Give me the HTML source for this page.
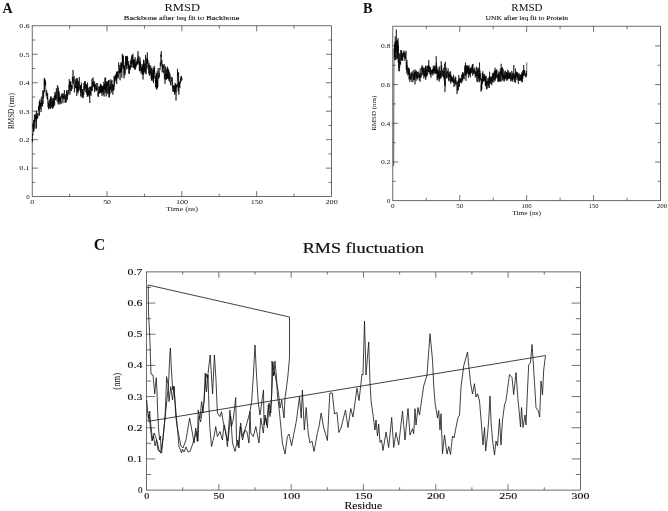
<!DOCTYPE html>
<html><head><meta charset="utf-8"><title>RMSD and RMS fluctuation</title>
<style>
html,body{margin:0;padding:0;background:#fff;}
svg{display:block;}
text{font-family:"Liberation Serif","DejaVu Serif",serif;fill:#111;}
</style></head><body>
<svg width="668" height="511" viewBox="0 0 668 511">
<rect width="668" height="511" fill="#fff"/>
<rect x="32.2" y="25.8" width="299.3" height="170.79999999999998" fill="none" stroke="#3a3a3a" stroke-width="0.75"/>
<line x1="107.03" y1="196.60" x2="107.03" y2="191.00" stroke="#3a3a3a" stroke-width="0.7"/>
<line x1="107.03" y1="25.80" x2="107.03" y2="31.40" stroke="#3a3a3a" stroke-width="0.7"/>
<line x1="181.85" y1="196.60" x2="181.85" y2="191.00" stroke="#3a3a3a" stroke-width="0.7"/>
<line x1="181.85" y1="25.80" x2="181.85" y2="31.40" stroke="#3a3a3a" stroke-width="0.7"/>
<line x1="256.68" y1="196.60" x2="256.68" y2="191.00" stroke="#3a3a3a" stroke-width="0.7"/>
<line x1="256.68" y1="25.80" x2="256.68" y2="31.40" stroke="#3a3a3a" stroke-width="0.7"/>
<line x1="69.61" y1="196.60" x2="69.61" y2="193.70" stroke="#3a3a3a" stroke-width="0.7"/>
<line x1="69.61" y1="25.80" x2="69.61" y2="28.70" stroke="#3a3a3a" stroke-width="0.7"/>
<line x1="144.44" y1="196.60" x2="144.44" y2="193.70" stroke="#3a3a3a" stroke-width="0.7"/>
<line x1="144.44" y1="25.80" x2="144.44" y2="28.70" stroke="#3a3a3a" stroke-width="0.7"/>
<line x1="219.26" y1="196.60" x2="219.26" y2="193.70" stroke="#3a3a3a" stroke-width="0.7"/>
<line x1="219.26" y1="25.80" x2="219.26" y2="28.70" stroke="#3a3a3a" stroke-width="0.7"/>
<line x1="294.09" y1="196.60" x2="294.09" y2="193.70" stroke="#3a3a3a" stroke-width="0.7"/>
<line x1="294.09" y1="25.80" x2="294.09" y2="28.70" stroke="#3a3a3a" stroke-width="0.7"/>
<line x1="32.20" y1="168.13" x2="37.80" y2="168.13" stroke="#3a3a3a" stroke-width="0.7"/>
<line x1="331.50" y1="168.13" x2="325.90" y2="168.13" stroke="#3a3a3a" stroke-width="0.7"/>
<line x1="32.20" y1="139.67" x2="37.80" y2="139.67" stroke="#3a3a3a" stroke-width="0.7"/>
<line x1="331.50" y1="139.67" x2="325.90" y2="139.67" stroke="#3a3a3a" stroke-width="0.7"/>
<line x1="32.20" y1="111.20" x2="37.80" y2="111.20" stroke="#3a3a3a" stroke-width="0.7"/>
<line x1="331.50" y1="111.20" x2="325.90" y2="111.20" stroke="#3a3a3a" stroke-width="0.7"/>
<line x1="32.20" y1="82.73" x2="37.80" y2="82.73" stroke="#3a3a3a" stroke-width="0.7"/>
<line x1="331.50" y1="82.73" x2="325.90" y2="82.73" stroke="#3a3a3a" stroke-width="0.7"/>
<line x1="32.20" y1="54.27" x2="37.80" y2="54.27" stroke="#3a3a3a" stroke-width="0.7"/>
<line x1="331.50" y1="54.27" x2="325.90" y2="54.27" stroke="#3a3a3a" stroke-width="0.7"/>
<line x1="32.20" y1="182.37" x2="35.30" y2="182.37" stroke="#3a3a3a" stroke-width="0.7"/>
<line x1="331.50" y1="182.37" x2="328.40" y2="182.37" stroke="#3a3a3a" stroke-width="0.7"/>
<line x1="32.20" y1="153.90" x2="35.30" y2="153.90" stroke="#3a3a3a" stroke-width="0.7"/>
<line x1="331.50" y1="153.90" x2="328.40" y2="153.90" stroke="#3a3a3a" stroke-width="0.7"/>
<line x1="32.20" y1="125.43" x2="35.30" y2="125.43" stroke="#3a3a3a" stroke-width="0.7"/>
<line x1="331.50" y1="125.43" x2="328.40" y2="125.43" stroke="#3a3a3a" stroke-width="0.7"/>
<line x1="32.20" y1="96.97" x2="35.30" y2="96.97" stroke="#3a3a3a" stroke-width="0.7"/>
<line x1="331.50" y1="96.97" x2="328.40" y2="96.97" stroke="#3a3a3a" stroke-width="0.7"/>
<line x1="32.20" y1="68.50" x2="35.30" y2="68.50" stroke="#3a3a3a" stroke-width="0.7"/>
<line x1="331.50" y1="68.50" x2="328.40" y2="68.50" stroke="#3a3a3a" stroke-width="0.7"/>
<line x1="32.20" y1="40.03" x2="35.30" y2="40.03" stroke="#3a3a3a" stroke-width="0.7"/>
<line x1="331.50" y1="40.03" x2="328.40" y2="40.03" stroke="#3a3a3a" stroke-width="0.7"/>
<text x="29.6" y="198.9" font-size="6.8" text-anchor="end">0</text>
<text x="29.6" y="170.4" font-size="6.8" text-anchor="end" textLength="10.3" lengthAdjust="spacingAndGlyphs">0.1</text>
<text x="29.6" y="142.0" font-size="6.8" text-anchor="end" textLength="10.3" lengthAdjust="spacingAndGlyphs">0.2</text>
<text x="29.6" y="113.5" font-size="6.8" text-anchor="end" textLength="10.3" lengthAdjust="spacingAndGlyphs">0.3</text>
<text x="29.6" y="85.0" font-size="6.8" text-anchor="end" textLength="10.3" lengthAdjust="spacingAndGlyphs">0.4</text>
<text x="29.6" y="56.6" font-size="6.8" text-anchor="end" textLength="10.3" lengthAdjust="spacingAndGlyphs">0.5</text>
<text x="29.6" y="28.1" font-size="6.8" text-anchor="end" textLength="10.3" lengthAdjust="spacingAndGlyphs">0.6</text>
<text x="32.3" y="203.8" font-size="7.0" text-anchor="middle" textLength="4" lengthAdjust="spacingAndGlyphs">0</text>
<text x="107.1" y="203.8" font-size="7.0" text-anchor="middle" textLength="7.8" lengthAdjust="spacingAndGlyphs">50</text>
<text x="182.0" y="203.8" font-size="7.0" text-anchor="middle" textLength="12.2" lengthAdjust="spacingAndGlyphs">100</text>
<text x="256.8" y="203.8" font-size="7.0" text-anchor="middle" textLength="12.2" lengthAdjust="spacingAndGlyphs">150</text>
<text x="331.6" y="203.8" font-size="7.0" text-anchor="middle" textLength="12.2" lengthAdjust="spacingAndGlyphs">200</text>
<text x="182" y="211.4" font-size="6.9" text-anchor="middle" textLength="32" lengthAdjust="spacingAndGlyphs">Time (ns)</text>
<text x="14.0" y="111" font-size="7.4" text-anchor="middle" textLength="36" lengthAdjust="spacingAndGlyphs" transform="rotate(-90 14.0 111)">RMSD (nm)</text>
<text x="182.2" y="11.3" font-size="10.6" text-anchor="middle" textLength="35.5" lengthAdjust="spacingAndGlyphs">RMSD</text>
<text x="181.6" y="20.3" font-size="7.0" text-anchor="middle" textLength="115.5" lengthAdjust="spacingAndGlyphs" stroke="#111" stroke-width="0.12">Backbone after lsq fit to Backbone</text>
<text x="2.4" y="12.5" font-size="14.0" text-anchor="start" font-weight="bold">A</text>
<polyline points="32.2,139.0 32.4,141.8 32.5,136.2 32.7,133.9 32.8,135.4 32.9,134.1 33.1,123.8 33.2,128.6 33.3,123.3 33.5,131.8 33.6,120.2 33.7,125.4 33.9,131.2 34.0,127.6 34.2,121.8 34.3,118.5 34.4,114.7 34.6,123.0 34.7,121.4 34.8,118.9 35.0,128.7 35.1,114.3 35.2,114.3 35.4,117.4 35.5,118.8 35.7,118.9 35.8,115.5 35.9,121.5 36.1,120.4 36.2,117.3 36.3,110.7 36.5,128.4 36.6,116.4 36.7,117.2 36.9,118.4 37.0,113.1 37.2,114.4 37.3,114.1 37.4,113.6 37.6,118.9 37.7,114.3 37.8,116.9 38.0,114.4 38.1,114.7 38.2,115.0 38.4,111.9 38.5,106.1 38.7,109.4 38.8,108.0 38.9,110.8 39.1,106.1 39.2,104.1 39.3,101.5 39.5,115.6 39.6,101.9 39.7,102.5 39.9,106.9 40.0,99.4 40.2,108.9 40.3,103.3 40.4,106.8 40.6,103.1 40.7,103.9 40.8,108.8 41.0,108.0 41.1,112.1 41.2,107.9 41.4,96.7 41.5,103.3 41.7,102.6 41.8,106.4 41.9,102.2 42.1,106.0 42.2,101.1 42.3,103.8 42.5,106.4 42.6,98.0 42.7,92.7 42.9,90.3 43.0,104.1 43.2,97.2 43.3,94.5 43.4,91.3 43.6,98.0 43.7,94.0 43.8,92.4 44.0,89.2 44.1,89.2 44.2,78.8 44.4,88.7 44.5,92.1 44.6,77.9 44.8,79.0 44.9,82.9 45.1,84.6 45.2,80.1 45.3,85.1 45.5,85.5 45.6,81.8 45.7,88.0 45.9,90.5 46.0,93.5 46.1,93.2 46.3,96.3 46.4,95.8 46.6,90.1 46.7,90.8 46.8,95.3 47.0,94.8 47.1,98.7 47.2,98.3 47.4,97.3 47.5,99.8 47.6,92.9 47.8,97.8 47.9,99.0 48.1,107.3 48.2,100.8 48.3,104.4 48.5,103.0 48.6,109.3 48.7,108.3 48.9,103.9 49.0,104.2 49.1,105.4 49.3,108.5 49.4,103.6 49.6,104.6 49.7,102.1 49.8,99.0 50.0,102.5 50.1,107.8 50.2,100.5 50.4,108.7 50.5,96.7 50.6,104.9 50.8,103.4 50.9,97.4 51.1,102.7 51.2,96.5 51.3,101.9 51.5,104.5 51.6,107.6 51.7,105.9 51.9,100.4 52.0,102.9 52.1,107.1 52.3,103.5 52.4,108.7 52.6,100.9 52.7,100.4 52.8,98.3 53.0,99.9 53.1,108.2 53.2,98.0 53.4,106.3 53.5,101.6 53.6,102.5 53.8,99.2 53.9,100.8 54.1,106.2 54.2,96.0 54.3,101.7 54.5,103.2 54.6,103.9 54.7,104.8 54.9,92.4 55.0,97.8 55.1,95.2 55.3,97.5 55.4,98.8 55.6,99.9 55.7,95.2 55.8,99.9 56.0,91.7 56.1,98.7 56.2,93.8 56.4,88.4 56.5,88.9 56.6,88.8 56.8,92.6 56.9,96.7 57.0,100.4 57.2,101.6 57.3,87.2 57.5,85.0 57.6,85.6 57.7,86.8 57.9,93.0 58.0,91.2 58.1,104.4 58.3,87.4 58.4,94.3 58.5,101.6 58.7,94.8 58.8,93.6 59.0,103.3 59.1,92.4 59.2,91.7 59.4,94.9 59.5,99.3 59.6,100.4 59.8,96.7 59.9,104.5 60.0,97.7 60.2,98.8 60.3,98.1 60.5,102.1 60.6,98.3 60.7,96.5 60.9,102.1 61.0,101.8 61.1,103.9 61.3,94.4 61.4,94.3 61.5,96.5 61.7,96.8 61.8,95.9 62.0,96.5 62.1,98.7 62.2,93.4 62.4,97.0 62.5,94.6 62.6,95.3 62.8,95.7 62.9,103.2 63.0,96.5 63.2,93.4 63.3,97.1 63.5,96.4 63.6,97.8 63.7,96.1 63.9,99.6 64.0,97.9 64.1,94.8 64.3,94.1 64.4,90.2 64.5,98.2 64.7,94.7 64.8,94.7 65.0,95.3 65.1,102.9 65.2,102.8 65.4,96.8 65.5,102.7 65.6,102.6 65.8,101.5 65.9,97.4 66.0,94.2 66.2,99.1 66.3,102.1 66.5,90.7 66.6,94.9 66.7,97.4 66.9,96.0 67.0,90.0 67.1,90.9 67.3,95.2 67.4,99.7 67.5,93.8 67.7,96.1 67.8,93.6 68.0,93.7 68.1,90.9 68.2,91.0 68.4,90.2 68.5,90.8 68.6,94.2 68.8,90.5 68.9,90.8 69.0,84.7 69.2,90.3 69.3,79.1 69.4,83.6 69.6,87.6 69.7,82.1 69.9,94.8 70.0,87.8 70.1,84.0 70.3,86.9 70.4,81.8 70.5,83.8 70.7,85.8 70.8,81.3 70.9,90.8 71.1,86.6 71.2,91.2 71.4,88.0 71.5,88.4 71.6,85.1 71.8,87.6 71.9,85.4 72.0,86.3 72.2,88.9 72.3,80.4 72.4,76.9 72.6,82.3 72.7,83.0 72.9,79.7 73.0,70.0 73.1,77.1 73.3,79.6 73.4,80.9 73.5,78.6 73.7,80.1 73.8,84.4 73.9,81.6 74.1,76.0 74.2,86.1 74.4,92.4 74.5,88.4 74.6,89.4 74.8,84.3 74.9,87.4 75.0,88.2 75.2,86.1 75.3,79.3 75.4,86.0 75.6,88.1 75.7,87.7 75.9,86.4 76.0,87.9 76.1,81.0 76.3,82.7 76.4,78.1 76.5,84.5 76.7,91.6 76.8,95.9 76.9,81.8 77.1,89.0 77.2,91.7 77.4,84.4 77.5,78.4 77.6,92.0 77.8,84.7 77.9,82.9 78.0,93.4 78.2,86.8 78.3,88.0 78.4,90.4 78.6,84.8 78.7,80.8 78.9,88.2 79.0,87.0 79.1,90.6 79.3,77.0 79.4,85.0 79.5,86.0 79.7,85.6 79.8,86.4 79.9,86.9 80.1,89.3 80.2,89.0 80.3,85.1 80.5,91.7 80.6,85.2 80.8,95.9 80.9,85.8 81.0,88.2 81.2,97.4 81.3,88.7 81.4,82.6 81.6,85.5 81.7,90.9 81.8,91.6 82.0,92.9 82.1,91.6 82.3,89.1 82.4,93.0 82.5,95.7 82.7,89.6 82.8,98.2 82.9,91.5 83.1,95.4 83.2,97.4 83.3,94.0 83.5,92.1 83.6,94.0 83.8,94.9 83.9,82.9 84.0,90.6 84.2,88.1 84.3,86.0 84.4,88.9 84.6,88.4 84.7,89.0 84.8,81.4 85.0,91.8 85.1,80.9 85.3,84.1 85.4,83.3 85.5,88.0 85.7,84.4 85.8,88.4 85.9,84.4 86.1,92.9 86.2,92.6 86.3,88.6 86.5,84.5 86.6,85.5 86.8,84.5 86.9,94.6 87.0,93.7 87.2,86.2 87.3,96.9 87.4,90.0 87.6,82.5 87.7,95.7 87.8,95.8 88.0,91.0 88.1,88.0 88.3,95.0 88.4,90.2 88.5,92.8 88.7,95.0 88.8,95.4 88.9,91.9 89.1,90.8 89.2,96.9 89.3,86.8 89.5,96.8 89.6,96.6 89.8,103.0 89.9,92.6 90.0,93.7 90.2,94.3 90.3,87.2 90.4,91.4 90.6,93.1 90.7,86.7 90.8,87.8 91.0,95.9 91.1,92.6 91.3,86.3 91.4,90.2 91.5,88.7 91.7,90.1 91.8,88.8 91.9,78.9 92.1,85.4 92.2,91.0 92.3,91.0 92.5,84.9 92.6,82.8 92.7,85.8 92.9,83.1 93.0,77.5 93.2,81.3 93.3,87.0 93.4,87.1 93.6,86.8 93.7,82.1 93.8,81.0 94.0,82.3 94.1,87.1 94.2,81.4 94.4,88.0 94.5,92.2 94.7,84.0 94.8,84.6 94.9,87.9 95.1,89.0 95.2,84.5 95.3,86.0 95.5,85.9 95.6,85.4 95.7,88.8 95.9,88.8 96.0,91.2 96.2,83.1 96.3,90.8 96.4,89.6 96.6,86.8 96.7,88.2 96.8,90.4 97.0,89.2 97.1,88.1 97.2,89.8 97.4,83.0 97.5,84.9 97.7,85.9 97.8,87.1 97.9,90.5 98.1,96.2 98.2,91.9 98.3,97.0 98.5,89.5 98.6,88.5 98.7,87.2 98.9,86.8 99.0,88.9 99.2,93.8 99.3,86.0 99.4,91.9 99.6,89.4 99.7,92.9 99.8,88.8 100.0,92.1 100.1,88.6 100.2,90.9 100.4,83.7 100.5,93.1 100.7,92.1 100.8,84.2 100.9,92.4 101.1,86.5 101.2,92.8 101.3,90.8 101.5,92.0 101.6,90.5 101.7,85.3 101.9,93.7 102.0,95.9 102.2,85.9 102.3,91.0 102.4,91.5 102.6,88.0 102.7,86.0 102.8,92.5 103.0,86.8 103.1,94.1 103.2,94.9 103.4,89.6 103.5,85.6 103.7,90.9 103.8,81.8 103.9,83.7 104.1,96.6 104.2,85.7 104.3,89.0 104.5,84.0 104.6,87.8 104.7,89.5 104.9,77.8 105.0,84.5 105.1,93.3 105.3,90.7 105.4,89.6 105.6,77.5 105.7,90.1 105.8,85.7 106.0,84.4 106.1,87.4 106.2,96.4 106.4,81.5 106.5,92.4 106.6,90.2 106.8,82.8 106.9,84.2 107.1,86.0 107.2,84.4 107.3,86.0 107.5,81.1 107.6,82.2 107.7,94.0 107.9,86.7 108.0,83.3 108.1,85.7 108.3,92.7 108.4,85.1 108.6,80.1 108.7,90.1 108.8,95.1 109.0,97.3 109.1,82.1 109.2,79.8 109.4,97.3 109.5,87.0 109.6,94.6 109.8,87.0 109.9,94.0 110.1,87.6 110.2,86.9 110.3,89.7 110.5,84.3 110.6,89.1 110.7,87.1 110.9,79.4 111.0,83.6 111.1,82.5 111.3,81.6 111.4,89.0 111.6,92.4 111.7,88.8 111.8,83.1 112.0,80.1 112.1,89.8 112.2,84.6 112.4,88.1 112.5,86.4 112.6,84.0 112.8,94.7 112.9,88.3 113.1,88.1 113.2,85.2 113.3,91.2 113.5,86.1 113.6,88.0 113.7,86.7 113.9,85.2 114.0,89.7 114.1,76.0 114.3,85.9 114.4,81.5 114.6,78.6 114.7,79.2 114.8,82.6 115.0,76.3 115.1,78.1 115.2,80.5 115.4,74.5 115.5,76.2 115.6,78.9 115.8,77.1 115.9,75.9 116.1,77.8 116.2,74.0 116.3,80.7 116.5,73.6 116.6,72.1 116.7,84.1 116.9,71.4 117.0,71.8 117.1,74.2 117.3,77.8 117.4,73.3 117.5,72.5 117.7,72.2 117.8,75.8 118.0,71.2 118.1,73.7 118.2,78.5 118.4,71.1 118.5,70.2 118.6,62.4 118.8,66.2 118.9,67.5 119.0,67.7 119.2,68.9 119.3,72.2 119.5,73.4 119.6,69.8 119.7,72.5 119.9,65.0 120.0,79.0 120.1,80.3 120.3,68.4 120.4,71.3 120.5,69.5 120.7,71.6 120.8,65.6 121.0,62.2 121.1,72.8 121.2,63.2 121.4,71.2 121.5,64.9 121.6,63.8 121.8,77.6 121.9,73.6 122.0,65.2 122.2,61.9 122.3,53.8 122.5,61.6 122.6,57.1 122.7,66.3 122.9,55.9 123.0,68.8 123.1,65.3 123.3,67.5 123.4,55.5 123.5,63.6 123.7,70.4 123.8,74.7 124.0,75.4 124.1,78.4 124.2,66.3 124.4,73.1 124.5,71.7 124.6,67.2 124.8,75.3 124.9,65.0 125.0,73.7 125.2,62.3 125.3,62.2 125.5,65.0 125.6,56.3 125.7,64.0 125.9,66.1 126.0,55.9 126.1,60.2 126.3,58.4 126.4,63.3 126.5,69.4 126.7,61.2 126.8,56.2 127.0,65.2 127.1,55.9 127.2,64.9 127.4,61.8 127.5,62.4 127.6,57.0 127.8,62.1 127.9,67.8 128.0,69.0 128.2,64.7 128.3,66.2 128.4,65.4 128.6,63.3 128.7,61.2 128.9,73.5 129.0,64.5 129.1,69.3 129.3,73.9 129.4,65.5 129.5,67.3 129.7,68.4 129.8,66.3 129.9,68.2 130.1,66.0 130.2,69.9 130.4,67.7 130.5,62.3 130.6,60.3 130.8,63.8 130.9,63.7 131.0,62.6 131.2,67.5 131.3,58.3 131.4,61.7 131.6,63.6 131.7,55.2 131.9,64.3 132.0,65.1 132.1,66.9 132.3,57.2 132.4,56.5 132.5,63.3 132.7,61.1 132.8,56.3 132.9,53.8 133.1,60.7 133.2,68.0 133.4,59.5 133.5,66.0 133.6,60.4 133.8,60.6 133.9,67.9 134.0,66.6 134.2,59.8 134.3,66.2 134.4,69.4 134.6,65.9 134.7,59.7 134.9,67.1 135.0,68.0 135.1,57.2 135.3,69.7 135.4,64.3 135.5,64.2 135.7,68.1 135.8,64.3 135.9,66.8 136.1,62.1 136.2,63.9 136.4,63.0 136.5,63.9 136.6,65.6 136.8,63.5 136.9,60.8 137.0,63.8 137.2,59.5 137.3,64.6 137.4,62.8 137.6,60.1 137.7,57.8 137.9,60.5 138.0,51.2 138.1,60.9 138.3,63.7 138.4,59.9 138.5,59.3 138.7,60.1 138.8,55.8 138.9,64.5 139.1,63.6 139.2,63.5 139.4,70.3 139.5,61.0 139.6,71.2 139.8,60.6 139.9,66.6 140.0,57.4 140.2,66.3 140.3,70.9 140.4,62.0 140.6,68.4 140.7,68.5 140.8,68.2 141.0,67.4 141.1,73.6 141.3,69.2 141.4,68.3 141.5,71.2 141.7,69.4 141.8,67.7 141.9,64.3 142.1,72.5 142.2,68.3 142.3,75.1 142.5,65.7 142.6,64.9 142.8,73.8 142.9,66.5 143.0,79.5 143.2,74.6 143.3,63.8 143.4,74.4 143.6,59.7 143.7,69.5 143.8,68.2 144.0,60.6 144.1,68.5 144.3,63.9 144.4,64.7 144.5,67.1 144.7,71.9 144.8,63.5 144.9,65.1 145.1,73.7 145.2,68.3 145.3,72.2 145.5,55.0 145.6,58.5 145.8,62.8 145.9,63.8 146.0,66.0 146.2,74.2 146.3,58.3 146.4,60.6 146.6,66.1 146.7,65.1 146.8,69.3 147.0,62.5 147.1,59.5 147.3,52.5 147.4,63.8 147.5,58.0 147.7,62.2 147.8,63.4 147.9,60.1 148.1,67.8 148.2,65.7 148.3,64.3 148.5,65.1 148.6,73.3 148.8,68.1 148.9,66.1 149.0,62.8 149.2,63.7 149.3,72.6 149.4,75.8 149.6,68.5 149.7,65.5 149.8,73.7 150.0,72.8 150.1,74.7 150.3,69.7 150.4,72.9 150.5,67.0 150.7,65.5 150.8,69.1 150.9,73.5 151.1,76.5 151.2,78.7 151.3,68.0 151.5,80.3 151.6,72.2 151.8,74.2 151.9,80.7 152.0,67.6 152.2,70.9 152.3,73.6 152.4,76.0 152.6,79.1 152.7,79.3 152.8,70.2 153.0,77.5 153.1,73.5 153.2,81.5 153.4,73.1 153.5,83.0 153.7,70.0 153.8,76.9 153.9,67.5 154.1,73.5 154.2,65.8 154.3,73.4 154.5,70.2 154.6,68.3 154.7,75.6 154.9,78.5 155.0,76.2 155.2,77.1 155.3,79.9 155.4,83.4 155.6,87.0 155.7,80.1 155.8,87.3 156.0,75.5 156.1,82.1 156.2,73.1 156.4,89.1 156.5,74.7 156.7,77.7 156.8,89.5 156.9,77.6 157.1,75.7 157.2,71.3 157.3,77.8 157.5,88.1 157.6,79.6 157.7,86.7 157.9,87.0 158.0,77.1 158.2,68.2 158.3,77.9 158.4,79.0 158.6,75.9 158.7,75.7 158.8,77.5 159.0,75.1 159.1,72.9 159.2,76.3 159.4,77.3 159.5,70.9 159.7,70.2 159.8,68.2 159.9,69.6 160.1,68.0 160.2,67.4 160.3,62.4 160.5,66.5 160.6,62.8 160.7,59.8 160.9,54.2 161.0,57.2 161.2,55.2 161.3,51.2 161.4,63.1 161.6,61.3 161.7,64.8 161.8,59.8 162.0,67.1 162.1,67.7 162.2,72.3 162.4,64.2 162.5,67.6 162.7,68.0 162.8,64.9 162.9,68.9 163.1,66.4 163.2,64.8 163.3,72.4 163.5,72.4 163.6,73.3 163.7,70.0 163.9,71.3 164.0,72.3 164.1,69.0 164.3,64.2 164.4,79.1 164.6,76.3 164.7,76.7 164.8,73.1 165.0,83.8 165.1,75.0 165.2,75.4 165.4,66.4 165.5,73.9 165.6,76.9 165.8,79.8 165.9,76.5 166.1,72.2 166.2,69.8 166.3,79.6 166.5,74.1 166.6,75.9 166.7,72.6 166.9,68.3 167.0,78.9 167.1,74.4 167.3,76.9 167.4,66.6 167.6,73.1 167.7,78.5 167.8,73.1 168.0,72.4 168.1,71.8 168.2,68.6 168.4,78.7 168.5,76.4 168.6,69.9 168.8,80.6 168.9,80.2 169.1,79.3 169.2,71.6 169.3,77.8 169.5,81.5 169.6,76.2 169.7,76.8 169.9,78.8 170.0,73.6 170.1,79.9 170.3,82.4 170.4,81.7 170.6,85.3 170.7,81.1 170.8,81.0 171.0,80.5 171.1,76.9 171.2,77.2 171.4,79.2 171.5,81.1 171.6,79.9 171.8,82.3 171.9,83.0 172.1,85.3 172.2,81.9 172.3,77.3 172.5,81.3 172.6,90.8 172.7,91.5 172.9,85.0 173.0,88.3 173.1,87.1 173.3,85.2 173.4,88.2 173.6,90.8 173.7,91.9 173.8,87.2 174.0,86.4 174.1,87.1 174.2,87.9 174.4,92.0 174.5,85.9 174.6,94.9 174.8,91.0 174.9,92.8 175.1,82.9 175.2,88.9 175.3,88.4 175.5,90.5 175.6,84.0 175.7,92.7 175.9,85.4 176.0,100.5 176.1,94.8 176.3,89.9 176.4,86.0 176.5,87.6 176.7,85.1 176.8,87.3 177.0,86.7 177.1,84.1 177.2,86.6 177.4,79.9 177.5,68.8 177.6,75.8 177.8,72.0 177.9,78.9 178.0,78.3 178.2,91.6 178.3,83.9 178.5,89.4 178.6,72.5 178.7,86.0 178.9,94.7 179.0,86.4 179.1,82.1 179.3,86.2 179.4,84.9 179.5,84.2 179.7,82.9 179.8,88.1 180.0,82.4 180.1,83.4 180.2,81.2 180.4,83.1 180.5,78.7 180.6,82.1 180.8,78.6 180.9,80.8 181.0,76.3 181.2,78.7 181.3,77.9 181.5,76.0 181.6,80.6 181.7,78.4 181.9,78.0 182.0,79.6" fill="none" stroke="#000" stroke-width="0.65" stroke-linejoin="round"/>
<rect x="392.8" y="26.2" width="267.7" height="174.5" fill="none" stroke="#3a3a3a" stroke-width="0.75"/>
<line x1="459.73" y1="200.70" x2="459.73" y2="195.00" stroke="#3a3a3a" stroke-width="0.7"/>
<line x1="459.73" y1="26.20" x2="459.73" y2="31.90" stroke="#3a3a3a" stroke-width="0.7"/>
<line x1="526.65" y1="200.70" x2="526.65" y2="195.00" stroke="#3a3a3a" stroke-width="0.7"/>
<line x1="526.65" y1="26.20" x2="526.65" y2="31.90" stroke="#3a3a3a" stroke-width="0.7"/>
<line x1="593.58" y1="200.70" x2="593.58" y2="195.00" stroke="#3a3a3a" stroke-width="0.7"/>
<line x1="593.58" y1="26.20" x2="593.58" y2="31.90" stroke="#3a3a3a" stroke-width="0.7"/>
<line x1="426.26" y1="200.70" x2="426.26" y2="197.70" stroke="#3a3a3a" stroke-width="0.7"/>
<line x1="426.26" y1="26.20" x2="426.26" y2="29.20" stroke="#3a3a3a" stroke-width="0.7"/>
<line x1="493.19" y1="200.70" x2="493.19" y2="197.70" stroke="#3a3a3a" stroke-width="0.7"/>
<line x1="493.19" y1="26.20" x2="493.19" y2="29.20" stroke="#3a3a3a" stroke-width="0.7"/>
<line x1="560.11" y1="200.70" x2="560.11" y2="197.70" stroke="#3a3a3a" stroke-width="0.7"/>
<line x1="560.11" y1="26.20" x2="560.11" y2="29.20" stroke="#3a3a3a" stroke-width="0.7"/>
<line x1="627.04" y1="200.70" x2="627.04" y2="197.70" stroke="#3a3a3a" stroke-width="0.7"/>
<line x1="627.04" y1="26.20" x2="627.04" y2="29.20" stroke="#3a3a3a" stroke-width="0.7"/>
<line x1="392.80" y1="162.00" x2="398.20" y2="162.00" stroke="#3a3a3a" stroke-width="0.7"/>
<line x1="660.50" y1="162.00" x2="655.10" y2="162.00" stroke="#3a3a3a" stroke-width="0.7"/>
<line x1="392.80" y1="123.30" x2="398.20" y2="123.30" stroke="#3a3a3a" stroke-width="0.7"/>
<line x1="660.50" y1="123.30" x2="655.10" y2="123.30" stroke="#3a3a3a" stroke-width="0.7"/>
<line x1="392.80" y1="84.60" x2="398.20" y2="84.60" stroke="#3a3a3a" stroke-width="0.7"/>
<line x1="660.50" y1="84.60" x2="655.10" y2="84.60" stroke="#3a3a3a" stroke-width="0.7"/>
<line x1="392.80" y1="45.90" x2="398.20" y2="45.90" stroke="#3a3a3a" stroke-width="0.7"/>
<line x1="660.50" y1="45.90" x2="655.10" y2="45.90" stroke="#3a3a3a" stroke-width="0.7"/>
<line x1="392.80" y1="181.35" x2="395.60" y2="181.35" stroke="#3a3a3a" stroke-width="0.7"/>
<line x1="660.50" y1="181.35" x2="657.70" y2="181.35" stroke="#3a3a3a" stroke-width="0.7"/>
<line x1="392.80" y1="142.65" x2="395.60" y2="142.65" stroke="#3a3a3a" stroke-width="0.7"/>
<line x1="660.50" y1="142.65" x2="657.70" y2="142.65" stroke="#3a3a3a" stroke-width="0.7"/>
<line x1="392.80" y1="103.95" x2="395.60" y2="103.95" stroke="#3a3a3a" stroke-width="0.7"/>
<line x1="660.50" y1="103.95" x2="657.70" y2="103.95" stroke="#3a3a3a" stroke-width="0.7"/>
<line x1="392.80" y1="65.25" x2="395.60" y2="65.25" stroke="#3a3a3a" stroke-width="0.7"/>
<line x1="660.50" y1="65.25" x2="657.70" y2="65.25" stroke="#3a3a3a" stroke-width="0.7"/>
<text x="390.3" y="203.1" font-size="6.7" text-anchor="end">0</text>
<text x="390.3" y="164.4" font-size="6.7" text-anchor="end" textLength="9.4" lengthAdjust="spacingAndGlyphs">0.2</text>
<text x="390.3" y="125.7" font-size="6.7" text-anchor="end" textLength="9.4" lengthAdjust="spacingAndGlyphs">0.4</text>
<text x="390.3" y="87.0" font-size="6.7" text-anchor="end" textLength="9.4" lengthAdjust="spacingAndGlyphs">0.6</text>
<text x="390.3" y="48.3" font-size="6.7" text-anchor="end" textLength="9.4" lengthAdjust="spacingAndGlyphs">0.8</text>
<text x="392.8" y="208.1" font-size="6.7" text-anchor="middle" textLength="3.6" lengthAdjust="spacingAndGlyphs">0</text>
<text x="459.7" y="208.1" font-size="6.7" text-anchor="middle" textLength="7" lengthAdjust="spacingAndGlyphs">50</text>
<text x="526.6" y="208.1" font-size="6.7" text-anchor="middle" textLength="10" lengthAdjust="spacingAndGlyphs">100</text>
<text x="593.6" y="208.1" font-size="6.7" text-anchor="middle" textLength="10" lengthAdjust="spacingAndGlyphs">150</text>
<text x="662" y="208.1" font-size="6.7" text-anchor="middle" textLength="10.5" lengthAdjust="spacingAndGlyphs">200</text>
<text x="526.6" y="215" font-size="7.0" text-anchor="middle" textLength="28.8" lengthAdjust="spacingAndGlyphs">Time (ns)</text>
<text x="376.2" y="113.2" font-size="7.0" text-anchor="middle" textLength="35.2" lengthAdjust="spacingAndGlyphs" transform="rotate(-90 376.2 113.2)">RMSD (nm)</text>
<text x="526.9" y="11.3" font-size="10.4" text-anchor="middle" textLength="31.2" lengthAdjust="spacingAndGlyphs">RMSD</text>
<text x="526.8" y="20" font-size="6.8" text-anchor="middle" textLength="82.5" lengthAdjust="spacingAndGlyphs" stroke="#111" stroke-width="0.1">UNK after lsq fit to Protein</text>
<text x="363" y="12.6" font-size="14.2" text-anchor="start" font-weight="bold">B</text>
<polyline points="393.7,166.0 393.8,120.0 393.9,80.0 394.0,58.0 394.1,54.1 394.2,48.2 394.3,56.6 394.5,57.7 394.6,44.3 394.7,59.9 394.8,43.8 394.9,42.6 395.1,41.5 395.2,51.6 395.3,36.4 395.4,47.9 395.6,51.6 395.7,59.9 395.8,44.5 395.9,60.2 396.0,42.3 396.2,50.3 396.3,29.5 396.4,46.0 396.5,40.6 396.7,46.3 396.8,58.2 396.9,46.9 397.0,49.0 397.1,49.6 397.3,52.3 397.4,40.1 397.5,58.8 397.6,44.5 397.8,42.0 397.9,53.1 398.0,38.0 398.1,57.0 398.2,62.4 398.4,58.9 398.5,45.8 398.6,59.0 398.7,70.9 398.9,59.2 399.0,67.6 399.1,66.0 399.2,53.7 399.3,71.4 399.5,71.2 399.6,67.4 399.7,67.7 399.8,64.2 400.0,53.3 400.1,64.1 400.2,62.4 400.3,65.2 400.4,62.3 400.6,63.9 400.7,59.6 400.8,50.0 400.9,57.5 401.1,60.1 401.2,53.3 401.3,53.4 401.4,50.1 401.5,60.6 401.7,51.0 401.8,57.9 401.9,55.1 402.0,52.6 402.2,54.3 402.3,60.8 402.4,60.3 402.5,56.9 402.6,54.4 402.8,60.4 402.9,58.4 403.0,56.0 403.1,56.9 403.2,52.8 403.4,56.7 403.5,54.5 403.6,54.4 403.7,51.9 403.9,54.8 404.0,55.4 404.1,50.6 404.2,55.1 404.3,55.2 404.5,57.7 404.6,57.4 404.7,53.0 404.8,60.9 405.0,55.8 405.1,53.5 405.2,52.6 405.3,59.0 405.4,58.8 405.6,56.6 405.7,58.8 405.8,56.4 405.9,55.8 406.1,50.8 406.2,63.0 406.3,70.0 406.4,61.3 406.5,61.3 406.7,62.6 406.8,73.7 406.9,59.8 407.0,69.4 407.2,65.4 407.3,69.7 407.4,71.4 407.5,71.4 407.6,72.0 407.8,68.8 407.9,75.6 408.0,73.6 408.1,72.1 408.3,73.5 408.4,71.1 408.5,67.7 408.6,68.7 408.7,74.3 408.9,67.7 409.0,79.3 409.1,77.3 409.2,73.7 409.4,75.0 409.5,69.5 409.6,77.4 409.7,79.2 409.8,81.9 410.0,73.6 410.1,79.3 410.2,77.0 410.3,75.8 410.5,75.9 410.6,77.5 410.7,79.8 410.8,79.6 410.9,77.8 411.1,72.4 411.2,73.3 411.3,77.6 411.4,76.2 411.6,73.9 411.7,81.3 411.8,81.9 411.9,76.3 412.0,73.2 412.2,74.8 412.3,71.5 412.4,71.1 412.5,75.2 412.7,73.8 412.8,77.0 412.9,82.2 413.0,76.0 413.1,74.0 413.3,75.1 413.4,75.6 413.5,79.9 413.6,76.2 413.8,78.6 413.9,69.8 414.0,72.9 414.1,73.9 414.2,78.4 414.4,72.2 414.5,80.1 414.6,72.7 414.7,76.3 414.9,75.6 415.0,84.4 415.1,72.3 415.2,69.6 415.3,74.5 415.5,76.7 415.6,76.4 415.7,71.5 415.8,73.3 416.0,72.5 416.1,80.9 416.2,75.8 416.3,76.6 416.4,70.5 416.6,75.6 416.7,75.0 416.8,77.9 416.9,72.2 417.1,78.4 417.2,76.6 417.3,75.8 417.4,71.9 417.5,79.4 417.7,76.1 417.8,76.3 417.9,76.0 418.0,75.8 418.2,76.3 418.3,76.1 418.4,77.7 418.5,76.8 418.6,71.6 418.8,75.8 418.9,77.2 419.0,74.1 419.1,75.2 419.3,80.6 419.4,76.1 419.5,73.4 419.6,76.2 419.7,78.0 419.9,77.1 420.0,75.7 420.1,81.7 420.2,68.3 420.4,76.4 420.5,77.4 420.6,73.0 420.7,72.9 420.8,73.0 421.0,75.7 421.1,75.0 421.2,76.6 421.3,77.4 421.5,72.8 421.6,73.7 421.7,73.9 421.8,66.6 421.9,71.8 422.1,67.2 422.2,65.1 422.3,68.6 422.4,74.7 422.6,68.2 422.7,68.3 422.8,72.7 422.9,70.5 423.0,66.9 423.2,75.4 423.3,75.5 423.4,71.9 423.5,68.4 423.6,71.5 423.8,70.4 423.9,78.5 424.0,70.8 424.1,75.0 424.3,76.7 424.4,73.6 424.5,73.9 424.6,76.0 424.7,74.3 424.9,68.2 425.0,75.5 425.1,67.3 425.2,71.4 425.4,75.5 425.5,65.7 425.6,76.6 425.7,80.0 425.8,72.2 426.0,66.2 426.1,77.5 426.2,70.9 426.3,69.6 426.5,70.2 426.6,71.1 426.7,70.4 426.8,76.4 426.9,68.2 427.1,66.5 427.2,65.7 427.3,69.6 427.4,75.3 427.6,65.9 427.7,67.7 427.8,71.3 427.9,67.5 428.0,67.4 428.2,66.2 428.3,66.4 428.4,65.4 428.5,72.1 428.7,62.2 428.8,60.0 428.9,71.7 429.0,68.3 429.1,67.8 429.3,74.2 429.4,65.8 429.5,70.8 429.6,67.9 429.8,71.7 429.9,69.1 430.0,68.8 430.1,71.8 430.2,71.2 430.4,72.1 430.5,75.6 430.6,67.0 430.7,71.0 430.9,72.8 431.0,77.7 431.1,71.0 431.2,73.0 431.3,73.9 431.5,69.9 431.6,71.2 431.7,71.7 431.8,70.7 432.0,73.3 432.1,73.2 432.2,69.5 432.3,72.6 432.4,72.5 432.6,71.2 432.7,69.3 432.8,75.5 432.9,68.9 433.1,71.9 433.2,74.2 433.3,65.6 433.4,70.5 433.5,67.4 433.7,71.1 433.8,72.9 433.9,68.9 434.0,71.4 434.2,72.5 434.3,68.4 434.4,68.8 434.5,66.2 434.6,71.1 434.8,67.4 434.9,74.2 435.0,73.4 435.1,64.9 435.3,69.6 435.4,70.3 435.5,71.6 435.6,72.1 435.7,68.6 435.9,73.7 436.0,72.2 436.1,73.6 436.2,56.2 436.4,73.2 436.5,62.5 436.6,73.1 436.7,70.9 436.8,66.0 437.0,71.5 437.1,80.4 437.2,72.0 437.3,69.0 437.5,71.9 437.6,73.9 437.7,77.8 437.8,70.5 437.9,80.2 438.1,73.0 438.2,77.5 438.3,75.3 438.4,70.7 438.6,77.1 438.7,78.1 438.8,74.0 438.9,67.3 439.0,72.4 439.2,75.3 439.3,81.6 439.4,74.5 439.5,79.1 439.7,73.9 439.8,66.3 439.9,75.2 440.0,71.0 440.1,79.2 440.3,77.0 440.4,72.3 440.5,71.3 440.6,73.7 440.8,77.3 440.9,74.6 441.0,72.6 441.1,78.2 441.2,61.2 441.4,70.3 441.5,71.0 441.6,65.1 441.7,72.7 441.9,72.8 442.0,75.9 442.1,71.0 442.2,71.4 442.3,69.9 442.5,71.7 442.6,72.5 442.7,71.2 442.8,77.0 443.0,72.5 443.1,75.5 443.2,75.3 443.3,67.7 443.4,69.7 443.6,72.7 443.7,74.7 443.8,77.1 443.9,71.3 444.1,78.9 444.2,76.4 444.3,81.0 444.4,72.2 444.5,63.6 444.7,84.7 444.8,81.3 444.9,92.1 445.0,90.5 445.1,77.9 445.3,86.3 445.4,61.7 445.5,62.0 445.6,66.6 445.8,77.2 445.9,75.2 446.0,77.7 446.1,67.6 446.2,71.4 446.4,73.2 446.5,72.7 446.6,73.4 446.7,78.7 446.9,72.6 447.0,72.8 447.1,72.5 447.2,77.7 447.3,71.5 447.5,72.1 447.6,71.7 447.7,70.9 447.8,74.2 448.0,73.0 448.1,68.4 448.2,72.8 448.3,74.3 448.4,77.6 448.6,73.7 448.7,80.3 448.8,74.8 448.9,81.3 449.1,71.6 449.2,71.9 449.3,74.7 449.4,74.8 449.5,75.0 449.7,76.3 449.8,72.6 449.9,76.6 450.0,74.3 450.2,81.4 450.3,75.7 450.4,75.9 450.5,81.6 450.6,71.3 450.8,83.7 450.9,78.5 451.0,76.7 451.1,77.0 451.3,78.3 451.4,79.2 451.5,75.6 451.6,79.9 451.7,80.7 451.9,78.6 452.0,82.2 452.1,77.2 452.2,78.9 452.4,81.3 452.5,79.5 452.6,81.8 452.7,80.3 452.8,76.7 453.0,81.7 453.1,77.5 453.2,82.0 453.3,80.1 453.5,83.0 453.6,74.7 453.7,82.9 453.8,81.6 453.9,86.8 454.1,87.0 454.2,83.8 454.3,80.5 454.4,81.7 454.6,79.2 454.7,79.7 454.8,81.3 454.9,84.8 455.0,85.9 455.2,76.7 455.3,82.9 455.4,84.0 455.5,82.3 455.7,76.9 455.8,81.4 455.9,81.0 456.0,79.7 456.1,84.2 456.3,81.9 456.4,83.1 456.5,84.4 456.6,83.6 456.8,86.8 456.9,87.1 457.0,94.0 457.1,87.0 457.2,87.5 457.4,81.1 457.5,88.5 457.6,89.7 457.7,86.0 457.9,90.5 458.0,87.1 458.1,85.6 458.2,90.3 458.3,80.6 458.5,86.4 458.6,81.5 458.7,83.3 458.8,75.0 459.0,84.4 459.1,85.4 459.2,79.0 459.3,87.1 459.4,81.4 459.6,82.4 459.7,78.4 459.8,81.5 459.9,79.4 460.1,79.8 460.2,80.7 460.3,77.8 460.4,81.5 460.5,79.4 460.7,82.7 460.8,80.1 460.9,81.2 461.0,81.3 461.2,82.8 461.3,83.3 461.4,80.3 461.5,74.6 461.6,79.0 461.8,79.0 461.9,82.6 462.0,78.6 462.1,80.4 462.3,78.6 462.4,79.1 462.5,72.8 462.6,80.8 462.7,75.1 462.9,72.0 463.0,74.5 463.1,75.4 463.2,74.8 463.4,77.4 463.5,74.4 463.6,76.5 463.7,78.8 463.8,73.5 464.0,72.9 464.1,79.3 464.2,76.6 464.3,75.4 464.5,72.2 464.6,71.5 464.7,71.0 464.8,67.1 464.9,73.4 465.1,65.4 465.2,67.5 465.3,65.5 465.4,76.1 465.5,62.5 465.7,74.9 465.8,65.7 465.9,77.8 466.0,80.9 466.2,70.7 466.3,74.7 466.4,65.4 466.5,68.3 466.6,73.3 466.8,70.1 466.9,68.8 467.0,69.8 467.1,68.6 467.3,67.9 467.4,72.7 467.5,65.3 467.6,70.4 467.7,72.1 467.9,74.1 468.0,72.3 468.1,70.8 468.2,66.0 468.4,77.9 468.5,66.9 468.6,73.7 468.7,68.6 468.8,73.7 469.0,65.3 469.1,70.3 469.2,72.4 469.3,68.7 469.5,75.5 469.6,71.3 469.7,74.1 469.8,73.9 469.9,71.2 470.1,69.0 470.2,69.1 470.3,77.4 470.4,67.8 470.6,74.2 470.7,67.6 470.8,73.0 470.9,73.2 471.0,69.5 471.2,68.2 471.3,71.7 471.4,72.5 471.5,68.1 471.7,72.6 471.8,72.5 471.9,67.7 472.0,65.7 472.1,70.8 472.3,69.0 472.4,64.1 472.5,64.0 472.6,75.8 472.8,71.9 472.9,70.7 473.0,64.2 473.1,70.1 473.2,74.1 473.4,69.3 473.5,70.4 473.6,71.5 473.7,69.7 473.9,73.3 474.0,70.2 474.1,73.4 474.2,73.8 474.3,73.5 474.5,73.1 474.6,68.4 474.7,69.0 474.8,67.8 475.0,73.7 475.1,74.1 475.2,75.1 475.3,77.6 475.4,70.8 475.6,76.0 475.7,74.0 475.8,76.2 475.9,72.0 476.1,74.0 476.2,71.2 476.3,70.4 476.4,66.6 476.5,75.8 476.7,73.6 476.8,81.5 476.9,74.0 477.0,74.7 477.2,70.8 477.3,76.1 477.4,70.5 477.5,79.5 477.6,82.2 477.8,68.3 477.9,72.9 478.0,69.5 478.1,70.8 478.3,67.4 478.4,73.9 478.5,78.1 478.6,73.5 478.7,78.5 478.9,75.5 479.0,79.0 479.1,81.4 479.2,70.1 479.4,82.3 479.5,62.5 479.6,70.5 479.7,80.3 479.8,72.2 480.0,70.5 480.1,79.7 480.2,75.6 480.3,74.3 480.5,74.2 480.6,73.4 480.7,80.5 480.8,79.4 480.9,77.7 481.1,91.7 481.2,85.2 481.3,90.5 481.4,87.7 481.6,79.5 481.7,79.2 481.8,89.5 481.9,85.5 482.0,81.2 482.2,84.4 482.3,73.0 482.4,82.6 482.5,82.5 482.7,75.4 482.8,71.3 482.9,82.1 483.0,78.6 483.1,76.5 483.3,77.1 483.4,76.1 483.5,78.8 483.6,81.3 483.8,73.8 483.9,80.9 484.0,75.6 484.1,74.6 484.2,74.9 484.4,79.1 484.5,79.9 484.6,77.3 484.7,74.5 484.9,81.7 485.0,76.7 485.1,77.8 485.2,76.6 485.3,85.3 485.5,78.6 485.6,76.6 485.7,86.3 485.8,79.7 485.9,83.7 486.1,85.8 486.2,75.9 486.3,81.2 486.4,89.1 486.6,85.9 486.7,83.0 486.8,84.9 486.9,89.4 487.0,82.4 487.2,84.2 487.3,83.9 487.4,81.7 487.5,80.9 487.7,83.5 487.8,82.5 487.9,78.1 488.0,88.0 488.1,81.8 488.3,80.8 488.4,85.9 488.5,81.0 488.6,80.0 488.8,78.1 488.9,80.1 489.0,80.6 489.1,83.8 489.2,76.6 489.4,88.0 489.5,84.2 489.6,71.8 489.7,82.8 489.9,76.4 490.0,80.4 490.1,78.9 490.2,78.4 490.3,77.6 490.5,83.4 490.6,82.2 490.7,79.3 490.8,76.9 491.0,78.9 491.1,84.1 491.2,81.7 491.3,77.3 491.4,77.0 491.6,80.6 491.7,81.7 491.8,85.2 491.9,76.5 492.1,80.8 492.2,81.3 492.3,80.1 492.4,73.3 492.5,82.3 492.7,78.4 492.8,77.4 492.9,77.8 493.0,74.3 493.2,78.8 493.3,74.5 493.4,72.9 493.5,76.3 493.6,77.9 493.8,82.5 493.9,73.3 494.0,81.0 494.1,72.4 494.3,73.5 494.4,70.7 494.5,74.7 494.6,73.5 494.7,79.5 494.9,71.1 495.0,72.0 495.1,67.7 495.2,71.3 495.4,80.7 495.5,70.1 495.6,73.6 495.7,77.4 495.8,76.5 496.0,73.6 496.1,70.2 496.2,70.7 496.3,78.3 496.5,70.9 496.6,73.1 496.7,71.7 496.8,72.8 496.9,69.2 497.1,75.1 497.2,77.5 497.3,73.8 497.4,75.5 497.6,76.2 497.7,75.5 497.8,81.6 497.9,74.2 498.0,75.0 498.2,78.3 498.3,76.4 498.4,75.1 498.5,81.7 498.7,71.5 498.8,79.3 498.9,80.1 499.0,73.2 499.1,81.7 499.3,76.7 499.4,76.5 499.5,77.2 499.6,76.5 499.8,81.7 499.9,71.7 500.0,72.7 500.1,77.4 500.2,76.6 500.4,68.5 500.5,81.3 500.6,71.4 500.7,73.4 500.9,72.8 501.0,73.8 501.1,72.8 501.2,63.8 501.3,74.8 501.5,75.8 501.6,68.0 501.7,71.3 501.8,81.5 502.0,75.3 502.1,76.1 502.2,71.0 502.3,67.2 502.4,75.0 502.6,80.0 502.7,68.3 502.8,73.0 502.9,74.4 503.1,69.4 503.2,78.2 503.3,75.8 503.4,73.9 503.5,78.3 503.7,76.6 503.8,79.4 503.9,81.1 504.0,75.6 504.2,78.7 504.3,81.5 504.4,71.3 504.5,77.7 504.6,74.9 504.8,79.7 504.9,74.8 505.0,77.9 505.1,76.1 505.3,77.7 505.4,75.2 505.5,70.7 505.6,71.7 505.7,79.0 505.9,78.9 506.0,74.9 506.1,76.3 506.2,72.9 506.3,73.6 506.5,72.1 506.6,75.3 506.7,80.9 506.8,72.8 507.0,78.1 507.1,77.7 507.2,80.3 507.3,72.8 507.4,73.3 507.6,79.2 507.7,69.6 507.8,76.1 507.9,75.5 508.1,76.3 508.2,78.0 508.3,73.0 508.4,77.3 508.5,79.1 508.7,71.1 508.8,75.6 508.9,75.0 509.0,76.2 509.2,74.2 509.3,76.0 509.4,79.1 509.5,76.5 509.6,73.5 509.8,76.6 509.9,77.7 510.0,72.2 510.1,74.2 510.3,74.3 510.4,77.6 510.5,72.6 510.6,74.9 510.7,80.7 510.9,78.4 511.0,75.9 511.1,81.4 511.2,77.8 511.4,78.6 511.5,75.9 511.6,75.0 511.7,73.5 511.8,70.8 512.0,79.6 512.1,76.1 512.2,73.8 512.3,75.5 512.5,79.6 512.6,77.9 512.7,81.8 512.8,72.6 512.9,75.6 513.1,74.5 513.2,79.5 513.3,76.7 513.4,76.7 513.6,78.1 513.7,75.2 513.8,65.0 513.9,78.3 514.0,76.4 514.2,74.5 514.3,76.2 514.4,82.2 514.5,77.6 514.7,75.9 514.8,80.6 514.9,73.7 515.0,77.3 515.1,75.9 515.3,77.8 515.4,68.5 515.5,68.8 515.6,82.7 515.8,76.0 515.9,76.7 516.0,77.4 516.1,73.0 516.2,76.5 516.4,71.6 516.5,75.6 516.6,76.0 516.7,72.6 516.9,73.7 517.0,79.9 517.1,75.0 517.2,75.2 517.3,77.1 517.5,75.9 517.6,72.0 517.7,76.7 517.8,76.4 518.0,76.4 518.1,80.7 518.2,78.2 518.3,75.5 518.4,84.0 518.6,76.9 518.7,73.6 518.8,75.4 518.9,75.4 519.1,76.9 519.2,78.8 519.3,73.4 519.4,80.9 519.5,78.7 519.7,77.1 519.8,77.5 519.9,78.9 520.0,79.0 520.2,78.1 520.3,80.6 520.4,75.3 520.5,79.4 520.6,78.9 520.8,78.4 520.9,79.9 521.0,74.0 521.1,81.1 521.3,75.1 521.4,76.5 521.5,75.1 521.6,79.9 521.7,72.4 521.9,82.4 522.0,77.2 522.1,73.9 522.2,73.6 522.4,76.3 522.5,82.0 522.6,70.6 522.7,74.6 522.8,78.6 523.0,76.0 523.1,75.3 523.2,72.8 523.3,73.8 523.5,69.7 523.6,75.5 523.7,65.0 523.8,71.3 523.9,75.8 524.1,72.4 524.2,75.7 524.3,70.0 524.4,71.5 524.6,72.4 524.7,70.1 524.8,71.8 524.9,74.0 525.0,74.1 525.2,73.2 525.3,75.7 525.4,76.9 525.5,76.4 525.7,74.6 525.8,73.8 525.9,73.7 526.0,77.5 526.1,76.5 526.3,73.9 526.4,71.0 526.5,74.4 526.6,75.7 526.8,62.5" fill="none" stroke="#000" stroke-width="0.6" stroke-linejoin="round"/>
<rect x="146.5" y="271.9" width="433.9" height="218.20000000000005" fill="none" stroke="#3a3a3a" stroke-width="0.75"/>
<line x1="218.82" y1="490.10" x2="218.82" y2="484.30" stroke="#3a3a3a" stroke-width="0.7"/>
<line x1="218.82" y1="271.90" x2="218.82" y2="277.70" stroke="#3a3a3a" stroke-width="0.7"/>
<line x1="291.13" y1="490.10" x2="291.13" y2="484.30" stroke="#3a3a3a" stroke-width="0.7"/>
<line x1="291.13" y1="271.90" x2="291.13" y2="277.70" stroke="#3a3a3a" stroke-width="0.7"/>
<line x1="363.45" y1="490.10" x2="363.45" y2="484.30" stroke="#3a3a3a" stroke-width="0.7"/>
<line x1="363.45" y1="271.90" x2="363.45" y2="277.70" stroke="#3a3a3a" stroke-width="0.7"/>
<line x1="435.77" y1="490.10" x2="435.77" y2="484.30" stroke="#3a3a3a" stroke-width="0.7"/>
<line x1="435.77" y1="271.90" x2="435.77" y2="277.70" stroke="#3a3a3a" stroke-width="0.7"/>
<line x1="508.08" y1="490.10" x2="508.08" y2="484.30" stroke="#3a3a3a" stroke-width="0.7"/>
<line x1="508.08" y1="271.90" x2="508.08" y2="277.70" stroke="#3a3a3a" stroke-width="0.7"/>
<line x1="182.66" y1="490.10" x2="182.66" y2="487.30" stroke="#3a3a3a" stroke-width="0.7"/>
<line x1="182.66" y1="271.90" x2="182.66" y2="274.70" stroke="#3a3a3a" stroke-width="0.7"/>
<line x1="254.97" y1="490.10" x2="254.97" y2="487.30" stroke="#3a3a3a" stroke-width="0.7"/>
<line x1="254.97" y1="271.90" x2="254.97" y2="274.70" stroke="#3a3a3a" stroke-width="0.7"/>
<line x1="327.29" y1="490.10" x2="327.29" y2="487.30" stroke="#3a3a3a" stroke-width="0.7"/>
<line x1="327.29" y1="271.90" x2="327.29" y2="274.70" stroke="#3a3a3a" stroke-width="0.7"/>
<line x1="399.61" y1="490.10" x2="399.61" y2="487.30" stroke="#3a3a3a" stroke-width="0.7"/>
<line x1="399.61" y1="271.90" x2="399.61" y2="274.70" stroke="#3a3a3a" stroke-width="0.7"/>
<line x1="471.92" y1="490.10" x2="471.92" y2="487.30" stroke="#3a3a3a" stroke-width="0.7"/>
<line x1="471.92" y1="271.90" x2="471.92" y2="274.70" stroke="#3a3a3a" stroke-width="0.7"/>
<line x1="544.24" y1="490.10" x2="544.24" y2="487.30" stroke="#3a3a3a" stroke-width="0.7"/>
<line x1="544.24" y1="271.90" x2="544.24" y2="274.70" stroke="#3a3a3a" stroke-width="0.7"/>
<line x1="146.50" y1="458.93" x2="155.30" y2="458.93" stroke="#3a3a3a" stroke-width="0.7"/>
<line x1="580.40" y1="458.93" x2="571.60" y2="458.93" stroke="#3a3a3a" stroke-width="0.7"/>
<line x1="146.50" y1="427.76" x2="155.30" y2="427.76" stroke="#3a3a3a" stroke-width="0.7"/>
<line x1="580.40" y1="427.76" x2="571.60" y2="427.76" stroke="#3a3a3a" stroke-width="0.7"/>
<line x1="146.50" y1="396.59" x2="155.30" y2="396.59" stroke="#3a3a3a" stroke-width="0.7"/>
<line x1="580.40" y1="396.59" x2="571.60" y2="396.59" stroke="#3a3a3a" stroke-width="0.7"/>
<line x1="146.50" y1="365.41" x2="155.30" y2="365.41" stroke="#3a3a3a" stroke-width="0.7"/>
<line x1="580.40" y1="365.41" x2="571.60" y2="365.41" stroke="#3a3a3a" stroke-width="0.7"/>
<line x1="146.50" y1="334.24" x2="155.30" y2="334.24" stroke="#3a3a3a" stroke-width="0.7"/>
<line x1="580.40" y1="334.24" x2="571.60" y2="334.24" stroke="#3a3a3a" stroke-width="0.7"/>
<line x1="146.50" y1="303.07" x2="155.30" y2="303.07" stroke="#3a3a3a" stroke-width="0.7"/>
<line x1="580.40" y1="303.07" x2="571.60" y2="303.07" stroke="#3a3a3a" stroke-width="0.7"/>
<line x1="146.50" y1="474.51" x2="151.10" y2="474.51" stroke="#3a3a3a" stroke-width="0.7"/>
<line x1="580.40" y1="474.51" x2="575.80" y2="474.51" stroke="#3a3a3a" stroke-width="0.7"/>
<line x1="146.50" y1="443.34" x2="151.10" y2="443.34" stroke="#3a3a3a" stroke-width="0.7"/>
<line x1="580.40" y1="443.34" x2="575.80" y2="443.34" stroke="#3a3a3a" stroke-width="0.7"/>
<line x1="146.50" y1="412.17" x2="151.10" y2="412.17" stroke="#3a3a3a" stroke-width="0.7"/>
<line x1="580.40" y1="412.17" x2="575.80" y2="412.17" stroke="#3a3a3a" stroke-width="0.7"/>
<line x1="146.50" y1="381.00" x2="151.10" y2="381.00" stroke="#3a3a3a" stroke-width="0.7"/>
<line x1="580.40" y1="381.00" x2="575.80" y2="381.00" stroke="#3a3a3a" stroke-width="0.7"/>
<line x1="146.50" y1="349.83" x2="151.10" y2="349.83" stroke="#3a3a3a" stroke-width="0.7"/>
<line x1="580.40" y1="349.83" x2="575.80" y2="349.83" stroke="#3a3a3a" stroke-width="0.7"/>
<line x1="146.50" y1="318.66" x2="151.10" y2="318.66" stroke="#3a3a3a" stroke-width="0.7"/>
<line x1="580.40" y1="318.66" x2="575.80" y2="318.66" stroke="#3a3a3a" stroke-width="0.7"/>
<line x1="146.50" y1="287.49" x2="151.10" y2="287.49" stroke="#3a3a3a" stroke-width="0.7"/>
<line x1="580.40" y1="287.49" x2="575.80" y2="287.49" stroke="#3a3a3a" stroke-width="0.7"/>
<text x="142.4" y="493.1" font-size="9.0" text-anchor="end" stroke="#111" stroke-width="0.15">0</text>
<text x="142.4" y="461.9" font-size="9.0" text-anchor="end" textLength="14.8" lengthAdjust="spacingAndGlyphs" stroke="#111" stroke-width="0.15">0.1</text>
<text x="142.4" y="430.8" font-size="9.0" text-anchor="end" textLength="14.8" lengthAdjust="spacingAndGlyphs" stroke="#111" stroke-width="0.15">0.2</text>
<text x="142.4" y="399.6" font-size="9.0" text-anchor="end" textLength="14.8" lengthAdjust="spacingAndGlyphs" stroke="#111" stroke-width="0.15">0.3</text>
<text x="142.4" y="368.4" font-size="9.0" text-anchor="end" textLength="14.8" lengthAdjust="spacingAndGlyphs" stroke="#111" stroke-width="0.15">0.4</text>
<text x="142.4" y="337.2" font-size="9.0" text-anchor="end" textLength="14.8" lengthAdjust="spacingAndGlyphs" stroke="#111" stroke-width="0.15">0.5</text>
<text x="142.4" y="306.1" font-size="9.0" text-anchor="end" textLength="14.8" lengthAdjust="spacingAndGlyphs" stroke="#111" stroke-width="0.15">0.6</text>
<text x="142.4" y="274.9" font-size="9.0" text-anchor="end" textLength="14.8" lengthAdjust="spacingAndGlyphs" stroke="#111" stroke-width="0.15">0.7</text>
<text x="146.7" y="499.4" font-size="9.0" text-anchor="middle" textLength="5" lengthAdjust="spacingAndGlyphs" stroke="#111" stroke-width="0.15">0</text>
<text x="219.0" y="499.4" font-size="9.0" text-anchor="middle" textLength="10.8" lengthAdjust="spacingAndGlyphs" stroke="#111" stroke-width="0.15">50</text>
<text x="291.3" y="499.4" font-size="9.0" text-anchor="middle" textLength="18" lengthAdjust="spacingAndGlyphs" stroke="#111" stroke-width="0.15">100</text>
<text x="363.6" y="499.4" font-size="9.0" text-anchor="middle" textLength="18" lengthAdjust="spacingAndGlyphs" stroke="#111" stroke-width="0.15">150</text>
<text x="436.0" y="499.4" font-size="9.0" text-anchor="middle" textLength="18" lengthAdjust="spacingAndGlyphs" stroke="#111" stroke-width="0.15">200</text>
<text x="508.3" y="499.4" font-size="9.0" text-anchor="middle" textLength="18" lengthAdjust="spacingAndGlyphs" stroke="#111" stroke-width="0.15">250</text>
<text x="580.6" y="499.4" font-size="9.0" text-anchor="middle" textLength="18" lengthAdjust="spacingAndGlyphs" stroke="#111" stroke-width="0.15">300</text>
<text x="363.3" y="508.8" font-size="9.5" text-anchor="middle" textLength="37.5" lengthAdjust="spacingAndGlyphs" stroke="#111" stroke-width="0.12">Residue</text>
<text x="120.4" y="381.3" font-size="11" text-anchor="middle" textLength="16.8" lengthAdjust="spacingAndGlyphs" transform="rotate(-90 120.4 381.3)">(nm)</text>
<text x="363.4" y="252.8" font-size="14" text-anchor="middle" textLength="121.5" lengthAdjust="spacingAndGlyphs" stroke="#111" stroke-width="0.2">RMS fluctuation</text>
<text x="93.7" y="250.4" font-size="16.0" text-anchor="start" font-weight="bold">C</text>
<polyline points="146.7,400.0 148.3,418.0 149.6,411.6 150.8,425.0 152.5,440.0 154.0,433.0 155.7,437.0 157.5,443.0 159.0,450.0 160.8,453.0 162.5,441.5 165.0,418.0 166.6,403.0 168.5,384.0 169.8,356.0 170.4,348.0 171.4,370.0 172.7,390.0 173.9,386.0 175.2,403.0 175.8,410.0 177.4,428.0 179.0,436.5 181.0,446.0 183.0,448.0 186.0,440.0 189.6,418.0 192.4,433.0 194.0,443.0 195.7,428.0 197.4,441.5 198.2,410.0 200.0,418.0 201.6,401.6 203.0,413.0 205.7,380.0 206.5,374.0 207.5,378.0 210.2,355.0 212.6,394.0 214.4,355.0 216.0,380.0 217.4,413.0 220.0,416.6 221.5,411.6 223.2,421.6 225.7,431.5 227.4,446.5 229.9,410.0 231.5,426.5 233.2,420.0 235.7,397.5 236.5,440.0 238.2,446.5 240.7,423.0 242.3,436.5 244.8,430.0 247.0,432.0 249.0,443.0 250.0,411.6 251.6,401.6 253.3,376.6 255.0,345.0 256.6,376.6 258.3,403.0 260.0,415.0 263.5,390.0 264.0,425.0 265.8,418.0 267.4,428.0 269.0,403.0 270.8,413.0 272.4,380.0 273.0,362.0 274.0,375.0 275.0,361.0 276.5,378.0 277.4,395.0 279.0,408.0 280.7,425.0 282.4,443.0 285.0,454.0 287.4,436.5 289.0,434.0 291.6,445.7 294.0,433.0 296.5,420.0 299.5,396.6 301.2,418.0 302.4,390.0 304.3,430.0 306.2,407.5 308.2,433.0 309.9,443.0 312.0,441.0 314.0,451.5 317.5,432.5 319.0,426.5 321.2,413.0 323.5,427.0 327.4,440.5 329.8,393.0 332.3,393.0 334.5,414.0 337.0,412.5 338.8,432.5 341.0,428.0 345.5,410.0 348.0,427.5 350.8,408.5 353.0,417.0 357.0,388.0 359.0,400.5 360.8,385.0 362.0,374.0 363.0,375.0 364.5,321.0 366.0,375.0 368.7,342.0 370.0,382.5 371.0,400.0 373.7,420.0 375.0,430.0 376.0,420.0 377.5,436.0 378.7,424.0 380.0,442.5 381.5,440.0 383.0,450.5 386.0,432.0 388.7,447.5 391.7,417.5 393.7,447.5 396.0,432.5 398.7,445.0 402.5,411.0 405.0,440.0 408.0,408.5 410.0,435.0 412.5,428.7 413.7,433.7 415.0,408.7 416.0,425.0 418.0,407.5 419.5,415.0 423.7,386.0 427.0,375.0 430.0,333.7 432.5,360.0 433.7,385.0 435.0,402.5 437.5,418.0 438.7,410.5 440.0,430.0 441.0,413.7 442.5,453.7 444.5,435.0 447.0,454.0 448.7,446.5 450.5,454.5 452.5,436.0 454.0,438.0 456.0,427.5 458.0,417.5 459.5,415.0 461.0,387.0 463.7,366.0 467.5,352.0 468.7,365.0 470.5,382.5 472.5,394.0 474.5,383.7 476.0,397.0 477.5,393.7 479.5,401.0 481.0,419.0 483.0,445.0 484.5,427.5 485.7,451.0 487.5,435.0 488.7,420.0 490.0,396.0 491.0,421.0 492.5,440.0 494.5,455.0 496.0,441.0 497.5,446.0 499.5,418.7 501.0,445.0 502.5,420.0 504.5,405.0 506.0,400.5 509.5,374.5 512.0,377.5 513.7,394.5 516.0,372.5 518.0,400.0 519.5,415.0 520.5,427.0 521.5,407.5 523.0,427.5 525.0,415.0 526.0,425.0 527.5,390.0 528.7,365.0 530.5,362.5 532.0,344.5 533.0,358.7 534.5,382.5 536.0,407.5 538.3,411.0 539.7,417.0 541.0,381.0 542.5,395.0 543.7,370.0 545.5,355.5 148.0,421.4 149.0,414.0 150.5,428.0 152.0,441.0 153.5,436.0 155.0,446.0 156.5,440.0 158.0,450.0 160.0,452.0 161.6,453.0 163.3,436.5 165.0,418.0 166.0,395.0 166.6,376.6 168.0,384.0 169.0,401.6 170.8,386.6 172.5,400.0 174.0,386.6 175.8,416.6 177.4,428.0 179.0,446.5 181.6,453.0 182.4,449.0 184.0,452.0 186.0,447.0 188.0,452.0 190.0,451.5 193.0,443.0 196.6,431.5 198.0,441.0 199.0,416.5 200.6,422.0 202.4,410.0 204.0,401.6 205.2,373.0 206.5,392.0 208.0,375.0 209.0,408.0 209.9,428.0 211.5,446.5 214.0,436.5 215.7,426.5 217.4,436.5 220.0,431.5 222.4,440.0 224.0,425.0 226.5,436.5 228.0,441.0 230.7,416.5 232.5,443.0 235.0,451.5 237.5,440.0 239.0,448.0 240.3,426.5 242.5,440.0 245.0,430.0 248.3,418.0 250.0,411.6 250.8,433.0 253.3,436.5 255.8,426.5 259.0,443.0 260.8,418.0 263.3,433.0 265.0,415.0 266.6,425.0 268.3,405.0 270.0,416.6 271.6,395.0 272.0,361.0 273.5,376.0 274.5,372.0 276.0,380.0 278.3,391.6 280.0,408.0 281.7,400.0 284.0,418.0 285.0,398.0 286.6,386.6 288.0,375.0 289.5,357.5 289.5,317.0 148.2,285.0 148.5,312.5 149.8,337.5 151.0,374.0 153.0,375.0 153.4,379.0 154.7,394.0 155.5,385.0 156.3,377.7 157.0,392.0 157.6,410.0 158.5,428.0 159.6,440.0 160.4,436.0 161.2,451.0" fill="none" stroke="#111" stroke-width="0.8" stroke-linejoin="miter"/>
</svg>
</body></html>
